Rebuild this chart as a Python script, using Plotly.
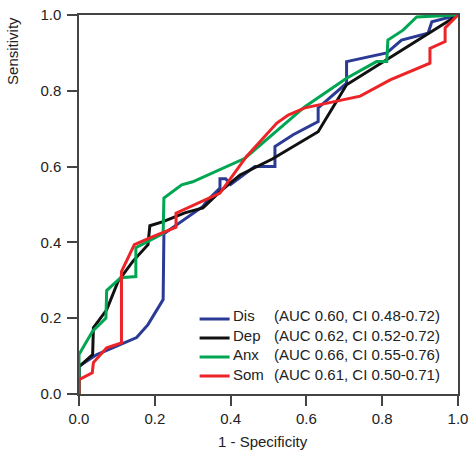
import plotly.graph_objects as go

# ---- data ----
dis_x = [0, 0, 0.047, 0.116, 0.152, 0.182, 0.222, 0.224, 0.258, 0.327, 0.340, 0.372, 0.372, 0.387, 0.40,
         0.464, 0.517, 0.517, 0.565, 0.631, 0.631, 0.706, 0.706, 0.812, 0.851, 0.921, 0.931, 1]
dis_y = [0, 0.073, 0.104, 0.133, 0.149, 0.183, 0.249, 0.423, 0.447, 0.495, 0.512, 0.543, 0.568, 0.568, 0.553,
         0.60, 0.60, 0.653, 0.684, 0.719, 0.755, 0.82, 0.877, 0.90, 0.934, 0.952, 0.982, 1]

dep_x = [0, 0, 0.036, 0.038, 0.073, 0.103, 0.142, 0.182, 0.187, 0.222, 0.279, 0.327, 0.372, 0.425, 0.51,
         0.631, 0.706, 1]
dep_y = [0, 0.072, 0.104, 0.175, 0.222, 0.297, 0.35, 0.394, 0.444, 0.455, 0.478, 0.491, 0.534, 0.578, 0.62,
         0.692, 0.816, 1]

anx_x = [0, 0, 0.036, 0.071, 0.073, 0.110, 0.150, 0.150, 0.222, 0.224, 0.271, 0.30, 0.438, 0.504, 0.596,
         0.706, 0.785, 0.812, 0.815, 0.855, 0.891, 1]
anx_y = [0, 0.104, 0.166, 0.20, 0.273, 0.307, 0.31, 0.386, 0.423, 0.517, 0.552, 0.56, 0.622, 0.679, 0.758,
         0.833, 0.877, 0.877, 0.934, 0.96, 0.995, 1]

som_x = [0, 0, 0.035, 0.038, 0.073, 0.112, 0.112, 0.146, 0.187, 0.256, 0.256, 0.327, 0.372, 0.442, 0.522,
         0.552, 0.596, 0.742, 0.821, 0.926, 0.926, 0.966, 0.966, 1]
som_y = [0, 0.038, 0.056, 0.083, 0.122, 0.135, 0.323, 0.394, 0.412, 0.44, 0.477, 0.51, 0.53, 0.627, 0.715,
         0.736, 0.755, 0.786, 0.829, 0.873, 0.912, 0.93, 0.966, 1]

names = ["Dis", "Dep", "Anx", "Som"]
auc_labels = ["(AUC 0.60, CI 0.48-0.72)", "(AUC 0.62, CI 0.52-0.72)",
              "(AUC 0.66, CI 0.55-0.76)", "(AUC 0.61, CI 0.50-0.71)"]
colors = ["#2b3a95", "#111111", "#00a651", "#ec2327"]
tick_vals = [0.0, 0.2, 0.4, 0.6, 0.8, 1.0]

FONT = "Liberation Sans, Arial, Helvetica, sans-serif"

fig = go.Figure()
for xs, ys, nm, c in zip([dis_x, dep_x, anx_x, som_x], [dis_y, dep_y, anx_y, som_y], names, colors):
    fig.add_trace(go.Scatter(x=xs, y=ys, mode="lines", name="\u00a0",
                             line=dict(color=c, width=3), showlegend=True))

axis_common = dict(range=[0, 1], tickvals=tick_vals, tickformat=".1f", showgrid=False, zeroline=False,
                   showline=True, linecolor="#444444", linewidth=1.5, mirror=True, automargin=False,
                   ticks="outside", ticklen=10, tickwidth=1.5, tickcolor="#444444",
                   tickfont=dict(family=FONT, size=15, color="#222222"))

fig.update_xaxes(**axis_common)
fig.update_yaxes(**axis_common, ticklabelstandoff=3)

# legend: line samples from Plotly's legend; text as annotations (two aligned columns)
fig.update_layout(
    width=470, height=451, autosize=False,
    margin=dict(l=79, r=12, t=15, b=57),
    paper_bgcolor="white", plot_bgcolor="white",
    font=dict(family=FONT, size=15, color="#222222"),
    legend=dict(x=0.305, xanchor="left", y=0.236, yanchor="top",
                bgcolor="rgba(0,0,0,0)", font=dict(size=10, color="rgba(0,0,0,0)"),
                itemwidth=30),
)

fig.add_annotation(x=0.402, xref="paper", y=0.128, yref="paper", xanchor="left", yanchor="middle",
                   text="<br>".join(names), showarrow=False, align="left",
                   font=dict(family=FONT, size=15, color="#222222"))
fig.add_annotation(x=0.510, xref="paper", y=0.128, yref="paper", xanchor="left", yanchor="middle",
                   text="<br>".join(auc_labels), showarrow=False, align="left",
                   font=dict(family=FONT, size=15, color="#222222"))

# axis titles
fig.add_annotation(x=-0.177, xref="paper", y=0.905, yref="paper", xanchor="center", yanchor="middle",
                   text="Sensitivity", textangle=-90, showarrow=False,
                   font=dict(family=FONT, size=15, color="#222222"))
fig.add_annotation(x=0.4855, xref="paper", y=-0.098, yref="paper", xanchor="center", yanchor="top",
                   text="1 - Specificity", showarrow=False,
                   font=dict(family=FONT, size=15, color="#222222"))

fig.write_html("out.html")
